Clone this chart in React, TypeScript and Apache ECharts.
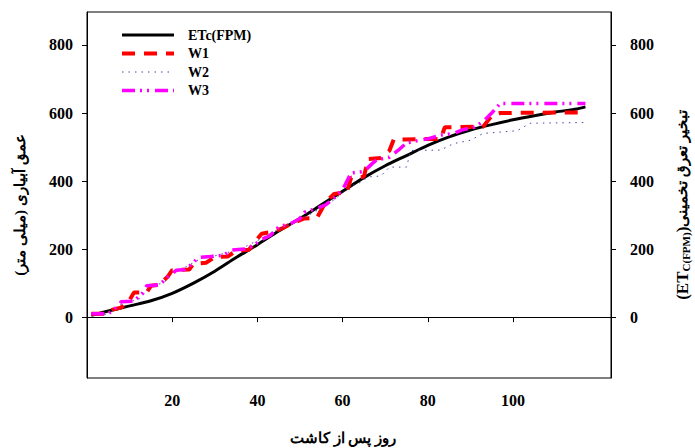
import React, { useEffect, useRef } from "react";
import * as echarts from "echarts";

const etcDays = [1, 5, 10, 15, 20, 25, 30, 35, 40, 45, 50, 55, 60, 65, 70, 75, 80, 85, 90, 95, 100, 105, 110, 115, 117];
const etcValues = [5, 18, 33, 48, 70, 100, 135, 175, 213, 253, 290, 330, 370, 410, 445, 475, 505, 530, 550, 566, 580, 592, 603, 612, 618];

const w1Days = [1, 5, 6, 8, 10, 11, 14, 15, 17, 19, 20, 24, 25, 28, 30, 33, 35, 38, 40, 41, 44, 46, 48, 51, 54, 55, 56, 58, 61, 62, 65, 66, 69, 71, 72, 83, 84, 93, 95, 97, 117];
const w1Values = [10, 10, 22, 28, 50, 72, 72, 92, 95, 120, 138, 140, 157, 160, 177, 178, 195, 198, 230, 245, 252, 262, 275, 290, 292, 315, 338, 362, 367, 410, 413, 465, 468, 490, 522, 524, 558, 560, 592, 600, 602];

const w2Days = [1, 5, 7, 9, 12, 14, 16, 18, 20, 22, 25, 27, 30, 33, 36, 40, 43, 46, 49, 52, 55, 58, 60, 62, 64, 66, 69, 71, 75, 76, 83, 86, 90, 93, 101, 104, 117];
const w2Values = [8, 8, 30, 45, 50, 75, 95, 100, 130, 140, 160, 175, 180, 190, 200, 225, 245, 265, 280, 300, 320, 345, 365, 385, 395, 412, 415, 441, 441, 490, 491, 510, 520, 540, 548, 570, 572];

const w3Days = [1, 5, 7, 8, 11, 13, 14, 17, 19, 21, 23, 25, 26, 29, 32, 34, 37, 39, 41, 43, 45, 48, 50, 51, 54, 56, 58, 60, 62, 65, 67, 68, 71, 73, 75, 78, 80, 83, 86, 88, 91, 93, 95, 97, 117];
const w3Values = [10, 10, 30, 45, 47, 70, 92, 95, 118, 138, 140, 160, 175, 178, 182, 197, 200, 210, 228, 240, 265, 276, 290, 308, 320, 330, 350, 375, 424, 428, 452, 462, 470, 490, 512, 520, 524, 535, 540, 550, 559, 575, 600, 628, 628];

const xTicks = [20, 40, 60, 80, 100];
const yTicks = [0, 200, 400, 600, 800];
const seriesNames = ["ETc(FPM)", "W1", "W2", "W3"];

const xTitle = "روز پس از کاشت";
const yLeftTitle = "عمق آبیاری (میلی متر)";
const yRightTitlePersian = "تبخیر تعرق تخمینی";

const zip = (xs: number[], ys: number[]) => xs.map((x, i) => [x, ys[i]]);

const FONT = "'Liberation Serif', 'Times New Roman', serif";

const lineStyles = [
  { color: "#000", width: 3, type: "solid" as any, cap: "butt" as const },
  { color: "#ff0000", width: 4, type: [13, 9] as any, cap: "butt" as const },
  { color: "#4444aa", width: 1, type: [1.5, 5] as any, cap: "butt" as const },
  { color: "#ff00ff", width: 3.5, type: [13, 5, 2, 5, 2, 6] as any, cap: "butt" as const },
];

export default function App() {
  const ref = useRef<HTMLDivElement>(null);
  useEffect(() => {
    if (!ref.current) return;
    const chart = echarts.init(ref.current, undefined, { renderer: "svg" });
    const labelStyle = { fontFamily: FONT, fontWeight: "bold" as const, fontSize: 16, color: "#000" };
    const yAxisBase = {
      type: "value" as const,
      min: -179,
      max: 897,
      splitLine: { show: false },
      axisLine: { show: true, lineStyle: { color: "#000", width: 1 } },
      axisTick: { show: true, length: 5, lineStyle: { color: "#000" }, customValues: yTicks },
    };
    const seriesData = [
      zip(etcDays, etcValues),
      zip(w1Days, w1Values),
      zip(w2Days, w2Values),
      zip(w3Days, w3Values),
    ];
    chart.setOption({
      animation: false,
      backgroundColor: "#fff",
      grid: { left: 87, top: 12, right: 84, bottom: 70, show: true, borderColor: "#000", borderWidth: 1, containLabel: false },
      legend: {
        left: 120,
        top: 28,
        padding: 0,
        orient: "vertical",
        itemWidth: 52,
        itemHeight: 14,
        itemGap: 4.5,
        data: seriesNames.map((n, i) => ({ name: n, lineStyle: { width: lineStyles[i].width } })),
        itemStyle: { opacity: 0 },
        textStyle: { fontFamily: FONT, fontWeight: "bold", fontSize: 14, color: "#000", padding: [0, 0, 0, 9] },
      },
      xAxis: {
        type: "value",
        min: 0,
        max: 123,
        splitLine: { show: false },
        axisLine: { show: true, lineStyle: { color: "#000", width: 1 } },
        axisTick: { show: true, length: 5, lineStyle: { color: "#000" }, customValues: xTicks },
        axisLabel: { ...labelStyle, margin: 14, customValues: xTicks },
      },
      yAxis: [
        { ...yAxisBase, position: "left", axisLabel: { ...labelStyle, margin: 14, customValues: yTicks } },
        { ...yAxisBase, position: "right", axisLabel: { ...labelStyle, margin: 19, customValues: yTicks } },
      ],
      series: seriesNames.map((n, i) => ({
        name: n,
        type: "line",
        data: seriesData[i],
        smooth: i === 0 ? 0.3 : false,
        symbol: "none",
        lineStyle: lineStyles[i],
        itemStyle: { color: lineStyles[i].color },
      })),
      graphic: [
        {
          type: "text",
          x: 343,
          y: 438,
          style: { text: xTitle, fontFamily: FONT, fontWeight: "bold", fontSize: 15, fill: "#000", textAlign: "center", textVerticalAlign: "middle" },
        },
        {
          type: "text",
          x: 20,
          y: 205,
          rotation: Math.PI / 2,
          style: { text: yLeftTitle, fontFamily: FONT, fontWeight: "bold", fontSize: 15, fill: "#000", textAlign: "center", textVerticalAlign: "middle" },
        },
        {
          type: "text",
          x: 682,
          y: 205,
          rotation: Math.PI / 2,
          style: {
            text: "{b|(ET}{s|C(FPM)}{b|)}{p|" + yRightTitlePersian + "}",
            fontFamily: FONT,
            fontWeight: "bold",
            fill: "#000",
            textAlign: "center",
            textVerticalAlign: "middle",
            rich: {
              b: { fontFamily: FONT, fontWeight: "bold", fontSize: 17, lineHeight: 22, fill: "#000" },
              s: { fontFamily: FONT, fontWeight: "bold", fontSize: 11, lineHeight: 22, padding: [8, 0, 0, 0], fill: "#000" },
              p: { fontFamily: FONT, fontWeight: "bold", fontSize: 15, lineHeight: 22, fill: "#000" },
            },
          },
        },
      ],
    });
    return () => chart.dispose();
  }, []);
  return <div ref={ref} style={{ width: 695, height: 448, position: "absolute", left: 0, top: 0 }} />;
}
